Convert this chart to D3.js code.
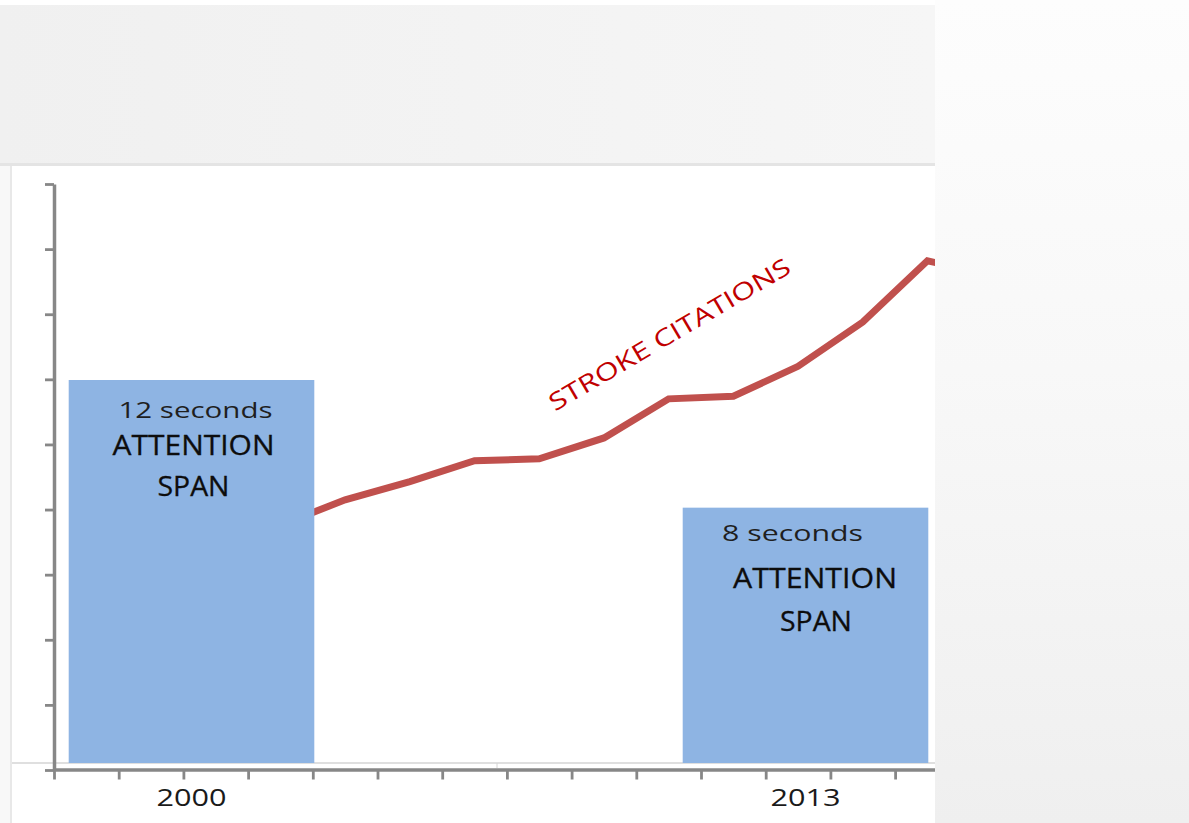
<!DOCTYPE html>
<html><head><meta charset="utf-8">
<script src="https://cdn.jsdelivr.net/npm/d3@7"></script>
<style>html,body{margin:0;padding:0;background:#fff;overflow:hidden}</style>
</head><body>
<svg id="c" width="1189" height="823"></svg>
<script>
// ---------- data ----------
const barCategories = ["2000", "2013"];
const barValues = [12, 8];
const barTopLabels = ["12 seconds", "8 seconds"];
const barMainLabels = ["ATTENTION", "SPAN"];
const lineCategories = ["1","2","3","4","5","6","7","8","9","10","11","12","13","14","15","16"];
const lineValues = [null, null, null, 37.6, 41.5, 44.3, 47.5, 47.8, 51.0, 57.0, 57.4, 62.0, 68.8, 78.2, 76.0, null];
const lineTickValues = [0, 10, 20, 30, 40, 50, 60, 70, 80, 90];
const lineLabel = "STROKE CITATIONS";

// ---------- layout ----------
const W = 1189, H = 823;
const plotRight = 935;
const svg = d3.select("#c");
const defs = svg.append("defs");

const g1 = defs.append("linearGradient").attr("id","topGrad").attr("x1",0).attr("x2",1).attr("y1",0).attr("y2",0);
g1.append("stop").attr("offset","0%").attr("stop-color","#f0f0f0");
g1.append("stop").attr("offset","100%").attr("stop-color","#f6f6f6");
const g2 = defs.append("linearGradient").attr("id","rightGrad").attr("x1",0).attr("x2",0).attr("y1",0).attr("y2",1);
g2.append("stop").attr("offset","0%").attr("stop-color","#fdfdfd");
g2.append("stop").attr("offset","45%").attr("stop-color","#f8f8f8");
g2.append("stop").attr("offset","100%").attr("stop-color","#efefef");
defs.append("clipPath").attr("id","plotClip").append("rect")
  .attr("x",12).attr("y",166).attr("width",plotRight-12).attr("height",H-166);

// background panels
svg.append("rect").attr("width",W).attr("height",H).attr("fill","#fff");
svg.append("rect").attr("x",0).attr("y",5).attr("width",plotRight).attr("height",158).attr("fill","url(#topGrad)");
svg.append("rect").attr("x",0).attr("y",163).attr("width",plotRight).attr("height",3).attr("fill","#e4e4e4");
svg.append("rect").attr("x",0).attr("y",166).attr("width",10).attr("height",H-166).attr("fill","#f8f8f8");
svg.append("rect").attr("x",10).attr("y",166).attr("width",2).attr("height",H-166).attr("fill","#e8e8e8");

const plot = svg.append("g").attr("clip-path","url(#plotClip)");

// ---------- scales ----------
const xBar = d3.scaleBand().domain(barCategories).range([38, 959]).paddingInner(0.6).paddingOuter(0.05);
const yBar = d3.scaleLinear().domain([0, 18]).range([763, 188.5]);

const xLine = d3.scaleLinear().domain([0, lineCategories.length]).range([54, 54 + 64.7 * lineCategories.length]);
const yLine = d3.scaleLinear().domain([0, 90]).range([770, 184]);

// bar-chart baseline
plot.append("line").attr("x1",12).attr("x2",plotRight).attr("y1",yBar(0)).attr("y2",yBar(0))
  .attr("stroke","#d4d4d4").attr("stroke-width",1.5);
plot.append("line").attr("x1",497).attr("x2",497).attr("y1",yBar(0)).attr("y2",yBar(0)+5)
  .attr("stroke","#d4d4d4").attr("stroke-width",1);

// ---------- line ----------
const lineData = lineValues.map((v,i)=>({i, v}));
const lineGen = d3.line().defined(d=>d.v!==null).x(d=>xLine(d.i+0.5)).y(d=>yLine(d.v));
plot.append("path").datum(lineData).attr("d",lineGen)
  .attr("fill","none").attr("stroke","#c0504d").attr("stroke-width",7).attr("stroke-linejoin","miter");

// ---------- bars ----------
plot.selectAll("rect.bar").data(barCategories).join("rect").attr("class","bar")
  .attr("x",d=>xBar(d)).attr("width",xBar.bandwidth())
  .attr("y",(d,i)=>yBar(barValues[i])).attr("height",(d,i)=>yBar(0)-yBar(barValues[i]))
  .attr("fill","#8eb4e3");

// text layout inside bars: [dx from center, dy from bar top, width, size]
const textLayout = [
  [[4,38,154,22],[2,75,162,28],[2,116,72,28]],
  [[-13,33,141,22],[9.5,80,164,28],[10.5,123,72,28]]
];
barCategories.forEach((c,i)=>{
  const cx = xBar(c) + xBar.bandwidth()/2, top = yBar(barValues[i]);
  const texts = [barTopLabels[i], barMainLabels[0], barMainLabels[1]];
  texts.forEach((t,k)=>{
    const L = textLayout[i][k];
    plot.append("text").attr("x",cx+L[0]).attr("y",top+L[1])
      .attr("text-anchor","middle").attr("font-family","'Open Sans', sans-serif")
      .attr("font-size",L[3]).attr("fill", k===0 ? "#1f1f1f" : "#0d0d0d")
      .attr("stroke", k===0 ? "none" : "#0d0d0d").attr("stroke-width",0.3)
      .attr("textLength",L[2]).attr("lengthAdjust","spacingAndGlyphs").text(t);
  });
});

// ---------- axes ----------
const axisColor = "#878787";
const yAxis = plot.append("g").attr("transform","translate(54,0)")
  .call(d3.axisLeft(yLine).tickValues(lineTickValues).tickSize(9).tickSizeOuter(0).tickFormat(""));
yAxis.select(".domain").attr("stroke",axisColor).attr("stroke-width",3.5);
yAxis.selectAll(".tick line").attr("stroke",axisColor).attr("stroke-width",2.8);

const xAxis = plot.append("g").attr("transform","translate(0,769.5)")
  .call(d3.axisBottom(xLine).tickValues(d3.range(0, lineCategories.length+1)).tickSize(10).tickSizeOuter(0).tickFormat(""));
xAxis.select(".domain").attr("stroke",axisColor).attr("stroke-width",3.5);
xAxis.selectAll(".tick line").attr("stroke",axisColor).attr("stroke-width",2.8);

// bar category labels
const labAxis = plot.append("g").attr("transform",`translate(0,${yBar(0)})`)
  .call(d3.axisBottom(xBar).tickSize(0).tickPadding(26));
labAxis.select(".domain").remove();
labAxis.selectAll("text").attr("font-family","'Open Sans', sans-serif").attr("font-size",24)
  .attr("fill","#1a1a1a").attr("textLength",70).attr("lengthAdjust","spacingAndGlyphs");

// series label
plot.append("text").attr("transform","translate(669.5,334.5) rotate(-30.5)")
  .attr("y",8.5).attr("text-anchor","middle").attr("font-family","'Open Sans', sans-serif")
  .attr("font-size",24).attr("fill","#c00000").attr("textLength",276).attr("lengthAdjust","spacingAndGlyphs")
  .text(lineLabel);

// right panel
svg.append("rect").attr("x",plotRight).attr("y",0).attr("width",W-plotRight).attr("height",H).attr("fill","url(#rightGrad)");
</script>
</body></html>
